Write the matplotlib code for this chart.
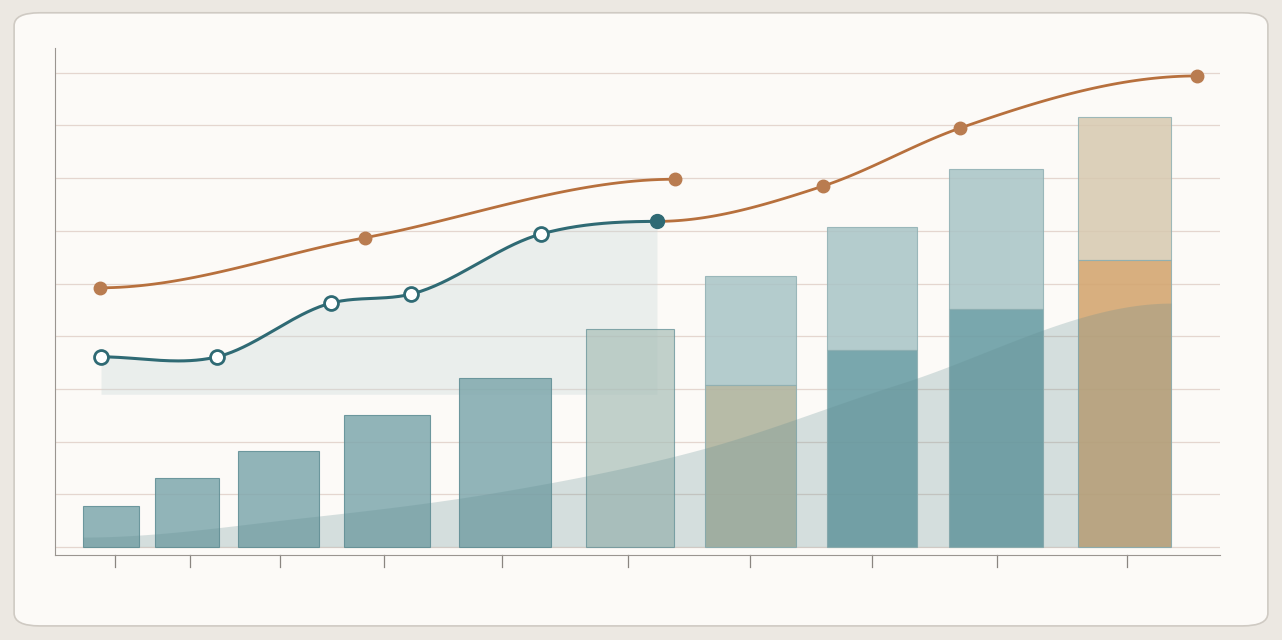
import numpy as np
import matplotlib.pyplot as plt
from matplotlib.patches import FancyBboxPatch

# bar positions (x units) and widths, heights in grid units
bar_x = [111, 187, 278.5, 387, 505, 630, 750.5, 872, 996, 1124.5]
bar_w = [56, 64, 81, 86, 92, 88, 91, 90, 94, 93]
bar_h = [0.78, 1.31, 1.82, 2.50, 3.20, 4.14, 5.15, 6.07, 7.17, 8.16]
bar_split = [None, None, None, None, None, None, 3.07, 3.74, 4.52, 5.45]
tick_x = [115, 190, 280, 384, 502, 628, 750, 872, 997, 1127]

orange1_x = [100, 365, 675]
orange1_y = [4.92, 5.87, 6.98]
orange2_x = [657, 823, 960, 1197]
orange2_y = [6.18, 6.85, 7.95, 8.94]
teal_x = [101, 217, 331, 411, 541, 657]
teal_y = [3.61, 3.61, 4.63, 4.80, 5.94, 6.18]
glow_x = [83, 300, 500, 700, 900, 1171]
glow_y = [0.19, 0.55, 1.05, 1.85, 3.10, 4.63]

def smooth(xs, ys, n=40):
    xs, ys = np.asarray(xs, float), np.asarray(ys, float)
    m = np.gradient(ys, xs)
    m[0] = m[-1] = 0
    ox, oy = [], []
    for i in range(len(xs) - 1):
        h = xs[i + 1] - xs[i]
        t = np.linspace(0, 1, n)
        h00 = 2*t**3 - 3*t**2 + 1; h10 = t**3 - 2*t**2 + t
        h01 = -2*t**3 + 3*t**2; h11 = t**3 - t**2
        ox.append(xs[i] + t*h)
        oy.append(h00*ys[i] + h10*h*m[i] + h01*ys[i+1] + h11*h*m[i+1])
    return np.concatenate(ox), np.concatenate(oy)

fig = plt.figure(figsize=(12.82, 6.4), dpi=100)
fig.patch.set_facecolor('#ece8e2')
card = FancyBboxPatch((0.011, 0.022), 0.978, 0.958, boxstyle='round,pad=0,rounding_size=0.02',
                      transform=fig.transFigure, fc='#fcfaf7', ec='#cfcac3', lw=1.2, zorder=-10)
fig.patches.append(card)

ax = fig.add_axes([55/1282, 85/640, 1165/1282, 507/640])
ax.set_zorder(5)
ax.set_xlim(55, 1220)
ax.set_ylim(-0.15, 9.47)
ax.set_facecolor('none')
for s in ['top', 'right']:
    ax.spines[s].set_visible(False)
ax.spines['left'].set_color('#9a9590')
ax.spines['bottom'].set_color('#9a9590')
ax.set_xticks([]); ax.set_yticks([])
for g in range(10):
    ax.axhline(g * 1.0 if g < 9 else 8.99, color='#e4d6cf', lw=0.9, zorder=0)
for t in tick_x:
    ax.plot([t, t], [-0.15, -0.38], color='#8a8580', lw=0.9, clip_on=False)

# shaded area beneath teal line
tx, ty = smooth(teal_x, teal_y)
ax.fill_between(tx, ty, 2.9, color='#c9d8da', alpha=0.35, lw=0, zorder=1)

for i, (x, w, h) in enumerate(zip(bar_x, bar_w, bar_h)):
    if i < 6:
        ax.bar(x, h, w, color='#7fa8ad' if i < 5 else '#a9bfb8', alpha=0.85 if i < 5 else 0.7,
               edgecolor='#5d8c93', lw=0.8, zorder=2)
    else:
        sp = bar_split[i]
        top_c = '#d7c9b0' if i == 9 else '#a8c4c6'
        low_c = '#d4a772' if i == 9 else ('#b0b49f' if i == 6 else '#6b9ea5')
        ax.bar(x, h - sp, w, bottom=sp, color=top_c, alpha=0.85, edgecolor='#8fb0b3', lw=0.8, zorder=2)
        ax.bar(x, sp, w, color=low_c, alpha=0.9, edgecolor='#8fb0b3', lw=0.8, zorder=2)

gx, gy = smooth(glow_x, glow_y)
ax.fill_between(gx, gy, 0, color='#5f8b90', alpha=0.25, lw=0, zorder=3)

ox, oy = smooth(orange1_x, orange1_y)
ax.plot(ox, oy, color='#b7703d', lw=2, zorder=4)
ax.plot(orange1_x, orange1_y, 'o', color='#b97c50', ms=9, zorder=5)
ox, oy = smooth(orange2_x, orange2_y)
ax.plot(ox, oy, color='#b7703d', lw=2, zorder=4)
ax.plot(orange2_x[1:], orange2_y[1:], 'o', color='#b97c50', ms=9, zorder=5)

ax.plot(tx, ty, color='#2f6a74', lw=2.2, zorder=4)
ax.plot(teal_x[:-1], teal_y[:-1], 'o', mfc='white', mec='#2f6a74', mew=2, ms=10, zorder=5)
ax.plot(teal_x[-1:], teal_y[-1:], 'o', color='#2f6a74', ms=10, zorder=5)

fig.savefig('out.png', dpi=100)
